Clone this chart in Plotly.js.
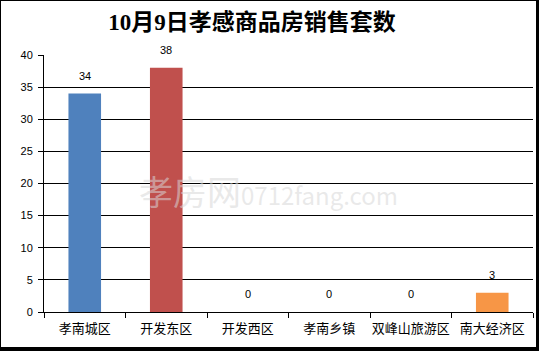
<!DOCTYPE html>
<html>
<head>
<meta charset="utf-8">
<script src="https://cdn.plot.ly/plotly-3.0.1.min.js"></script>
<style>
html,body{margin:0;padding:0;background:#fff;}
#wrap{position:relative;width:539px;height:351px;}
#chart{position:absolute;left:0;top:0;width:539px;height:351px;}
#frame{position:absolute;left:0;top:0;width:535px;height:346px;border-left:1px solid #000;border-top:1px solid #000;border-right:3px solid #000;border-bottom:4px solid #000;pointer-events:none;}
</style>
</head>
<body>
<div id="wrap"><div id="chart"></div><div id="frame"></div></div>
<script>
const categories = ["孝南城区", "开发东区", "开发西区", "孝南乡镇", "双峰山旅游区", "南大经济区"];
const values = [34, 38, 0, 0, 0, 3];
const colors = ["#4F81BD", "#C0504D", "#9BBB59", "#8064A2", "#4BACC6", "#F79646"];
const yTicks = [0, 5, 10, 15, 20, 25, 30, 35, 40];
const titleText = "10月9日孝感商品房销售套数";
const watermark = "孝房网0712fang.com";

const trace = {
  type: "bar",
  x: categories,
  y: values,
  marker: {color: colors},
  hoverinfo: "none"
};

const labelAnnotations = categories.map((c, i) => ({
  x: c, y: values[i], xref: "x", yref: "y",
  text: String(values[i]),
  showarrow: false,
  yanchor: "bottom", yshift: 10,
  font: {family: "Liberation Sans, Arial, sans-serif", size: 11, color: "#000"}
}));

const layout = {
  width: 539, height: 351,
  margin: {l: 44, r: 6, t: 55, b: 39},
  paper_bgcolor: "#fff", plot_bgcolor: "#fff",
  showlegend: false,
  bargap: 0.6,
  title: {
    text: "<b>" + titleText + "</b>",
    font: {family: "Liberation Serif, 'Noto Sans CJK SC', serif", size: 23, color: "#000"},
    xref: "container", x: 0.4675, xanchor: "center",
    yref: "container", y: 0.937, yanchor: "middle"
  },
  xaxis: {
    type: "category",
    showline: true, linecolor: "#000", linewidth: 1,
    ticks: "outside", ticklen: 5, tickcolor: "#000", tickson: "boundaries",
    tickangle: 0,
    ticklabelstandoff: 4,
    showgrid: false,
    tickfont: {family: "'Noto Sans CJK SC', sans-serif", size: 13, color: "#000"},
    fixedrange: true
  },
  yaxis: {
    range: [0, 40],
    tickvals: yTicks,
    ticktext: yTicks.map(String),
    showline: true, linecolor: "#000", linewidth: 1,
    ticks: "outside", ticklen: 5, tickcolor: "#000",
    ticklabelstandoff: 3,
    showgrid: true, gridcolor: "#000", gridwidth: 1,
    zeroline: false,
    tickfont: {family: "Liberation Sans, Arial, sans-serif", size: 11, color: "#000"},
    fixedrange: true
  },
  annotations: labelAnnotations.concat([{
    text: '<span style="font-size:34px">孝房网</span><span style="font-size:24px">0712fang.com</span>',
    xref: "paper", yref: "paper",
    x: (268 - 44) / 489, y: (312 - 190) / 257,
    xanchor: "center", yanchor: "middle",
    showarrow: false,
    font: {family: "'Noto Sans CJK SC', serif", color: "rgba(215,215,215,0.55)"}
  }])
};

Plotly.newPlot("chart", [trace], layout, {displayModeBar: false, staticPlot: true});
</script>
</body>
</html>
